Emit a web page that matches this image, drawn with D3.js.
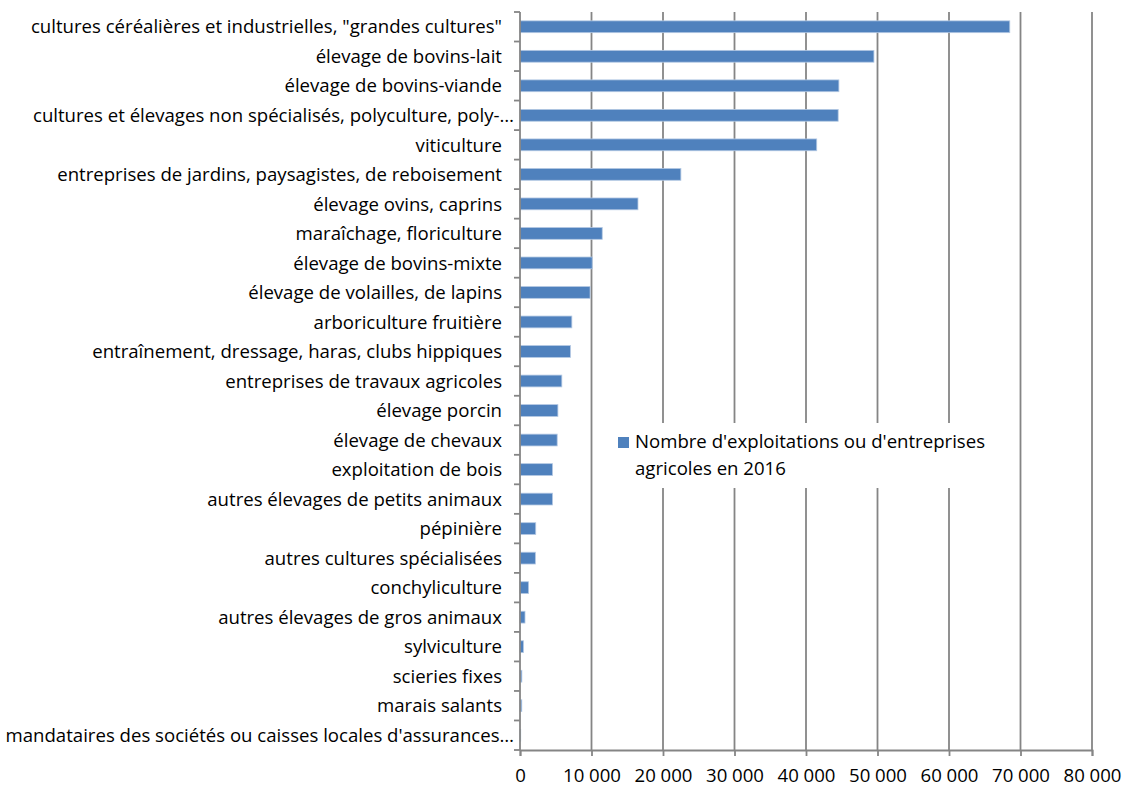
<!DOCTYPE html>
<html>
<head>
<meta charset="utf-8">
<script src="https://cdn.jsdelivr.net/npm/d3@7"></script>
<style>
  body { margin: 0; background: #fff; }
  text { font-family: "Open Sans", sans-serif; fill: #000; }
</style>
</head>
<body>
<div id="chart"></div>
<script>
// data
var categories = [
  "cultures céréalières et industrielles, \"grandes cultures\"",
  "élevage de bovins-lait",
  "élevage de bovins-viande",
  "cultures et élevages non spécialisés, polyculture, poly-…",
  "viticulture",
  "entreprises de jardins, paysagistes, de reboisement",
  "élevage ovins, caprins",
  "maraîchage, floriculture",
  "élevage de bovins-mixte",
  "élevage de volailles, de lapins",
  "arboriculture fruitière",
  "entraînement, dressage, haras, clubs hippiques",
  "entreprises de travaux agricoles",
  "élevage porcin",
  "élevage de chevaux",
  "exploitation de bois",
  "autres élevages de petits animaux",
  "pépinière",
  "autres cultures spécialisées",
  "conchyliculture",
  "autres élevages de gros animaux",
  "sylviculture",
  "scieries fixes",
  "marais salants",
  "mandataires des sociétés ou caisses locales d'assurances…"
]
var values = [68500, 49500, 44600, 44500, 41500, 22500, 16500, 11500, 10100, 9800,
              7250, 7050, 5850, 5300, 5200, 4550, 4550, 2200, 2150, 1200,
              700, 480, 260, 250, 100]
var x_ticks = [0, 10000, 20000, 30000, 40000, 50000, 60000, 70000, 80000]
var legend_lines = ["Nombre d'exploitations ou d'entreprises", "agricoles en 2016"]

// layout
var total_width = 1122,
    total_height = 789,
    plot = {left: 520, right: 1092, top: 12, bottom: 750},
    font_size = 18.6,
    bar_color = "#4f81bd",
    axis_color = "#858585"

var fr = d3.formatLocale({decimal: ",", thousands: " ", grouping: [3], currency: ["", " €"]})
var fmt = fr.format(",d")

var svg = d3.select("#chart").append("svg")
    .attr("width", total_width)
    .attr("height", total_height)

var x = d3.scaleLinear().domain([0, 80000]).range([plot.left, plot.right])
var y = d3.scaleBand().domain(categories).range([plot.top, plot.bottom])
    .paddingInner(0.6).paddingOuter(0.3)

// vertical gridlines
svg.append("g")
    .selectAll("line")
    .data(x_ticks.slice(1))
    .enter()
    .append("line")
    .attr("x1", d => x(d))
    .attr("x2", d => x(d))
    .attr("y1", plot.top)
    .attr("y2", plot.bottom)
    .attr("stroke", axis_color)
    .attr("stroke-width", 1.8)

// x axis
var x_axis = svg.append("g")
    .attr("transform", "translate(0," + plot.bottom + ")")
    .call(d3.axisBottom(x).tickValues(x_ticks).tickFormat(fmt).tickSize(6).tickPadding(13))
x_axis.select(".domain").attr("stroke", axis_color).attr("stroke-width", 1.8)
x_axis.selectAll(".tick line").attr("stroke", axis_color).attr("stroke-width", 1.8)
x_axis.selectAll("text")
    .style("font-size", font_size + "px")
    .style("font-family", "'Open Sans', sans-serif")
    .attr("fill", "#000")

// bars
svg.append("g")
    .selectAll("rect")
    .data(values)
    .enter()
    .append("rect")
    .attr("x", x(0))
    .attr("y", (d, i) => y(categories[i]))
    .attr("width", d => x(d) - x(0))
    .attr("height", y.bandwidth())
    .attr("fill", bar_color)
    .attr("stroke", "#b3c8e3")
    .attr("stroke-width", 0.8)

// y axis: line + ticks at band boundaries
var step = y.step()
var boundaries = d3.range(categories.length + 1).map(i => plot.top + i * step)
svg.append("line")
    .attr("x1", plot.left).attr("x2", plot.left)
    .attr("y1", plot.top).attr("y2", plot.bottom)
    .attr("stroke", axis_color).attr("stroke-width", 1.8)
svg.append("g")
    .selectAll("line")
    .data(boundaries)
    .enter()
    .append("line")
    .attr("x1", plot.left - 6).attr("x2", plot.left)
    .attr("y1", d => d).attr("y2", d => d)
    .attr("stroke", axis_color).attr("stroke-width", 1.8)

// category labels
var labels = svg.append("g")
    .selectAll("text")
    .data(categories)
    .enter()
    .append("text")
    .text(d => d)
    .attr("x", d => d.endsWith("…") ? 514 : 502)
    .attr("y", d => y(d) + y.bandwidth() / 2)
    .attr("dy", "0.36em")
    .attr("text-anchor", "end")
    .style("font-size", font_size + "px")

// legend
var legend = svg.append("g").attr("transform", "translate(600,423)")
legend.append("rect")
    .attr("width", 400).attr("height", 65)
    .attr("fill", "#fff")
legend.append("rect")
    .attr("x", 18).attr("y", 14)
    .attr("width", 11).attr("height", 11)
    .attr("fill", bar_color)
legend.selectAll(".legend_text")
    .data(legend_lines)
    .enter()
    .append("text")
    .text(d => d)
    .attr("x", 35)
    .attr("y", (d, i) => 25 + i * 27)
    .style("font-size", font_size + "px")
</script>
</body>
</html>
